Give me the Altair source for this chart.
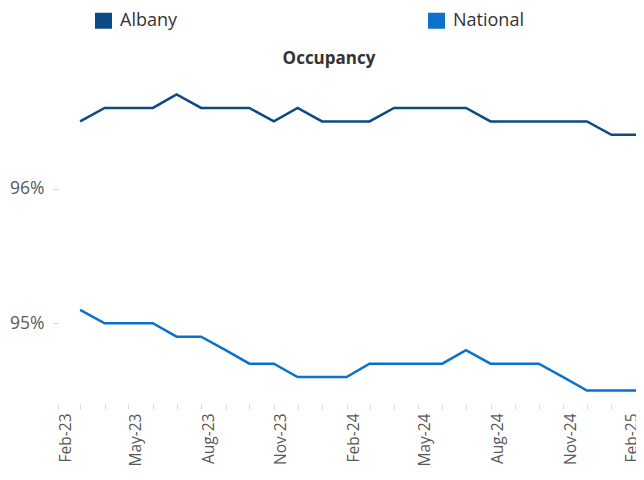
import altair as alt
import pandas as pd

months = [
    "2023-03-01", "2023-04-01", "2023-05-01", "2023-06-01", "2023-07-01", "2023-08-01",
    "2023-09-01", "2023-10-01", "2023-11-01", "2023-12-01", "2024-01-01", "2024-02-01",
    "2024-03-01", "2024-04-01", "2024-05-01", "2024-06-01", "2024-07-01", "2024-08-01",
    "2024-09-01", "2024-10-01", "2024-11-01", "2024-12-01", "2025-01-01", "2025-02-01",
]
albany = [96.5, 96.6, 96.6, 96.6, 96.7, 96.6, 96.6, 96.6, 96.5, 96.6, 96.5, 96.5,
          96.5, 96.6, 96.6, 96.6, 96.6, 96.5, 96.5, 96.5, 96.5, 96.5, 96.4, 96.4]
national = [95.1, 95.0, 95.0, 95.0, 94.9, 94.9, 94.8, 94.7, 94.7, 94.6, 94.6, 94.6,
            94.7, 94.7, 94.7, 94.7, 94.8, 94.7, 94.7, 94.7, 94.6, 94.5, 94.5, 94.5]
series_names = ["Albany", "National"]
series_colors = ["#0B4A84", "#0A72CC"]

rows = []
for m, a, n in zip(months, albany, national):
    rows.append({"month": m, "series": series_names[0], "value": a})
    rows.append({"month": m, "series": series_names[1], "value": n})
df = pd.DataFrame(rows)

tick_dates = [alt.DateTime(year=2023 + (1 + i) // 12, month=((1 + i) % 12) + 1, date=1, utc=True)
              for i in range(25)]

chart = alt.Chart(df).mark_line(strokeWidth=2.5).encode(
    x=alt.X(
        "month:T",
        scale=alt.Scale(type="utc",
                        domain=[alt.DateTime(year=2023, month=2, date=1, utc=True),
                                alt.DateTime(year=2025, month=2, date=1, utc=True)]),
        axis=alt.Axis(
            title=None,
            values=tick_dates,
            labelExpr="utcmonth(datum.value) % 3 == 1 ? utcFormat(datum.value, '%b-%y') : ''",
            labelAngle=-90,
            labelAlign="right",
            labelBaseline=alt.ExprRef(expr="datum.value >= 1735689600000 ? 'alphabetic' : 'top'"),
            labelPadding=4,
            labelFont="Open Sans",
            labelFontSize=15.5,
            labelColor="#595959",
            labelOverlap=False,
            labelFlush=False,
            ticks=True,
            tickColor="#D9D9D9",
            tickSize=5,
            domain=False,
            grid=False,
        ),
    ),
    y=alt.Y(
        "value:Q",
        scale=alt.Scale(domain=[94.4, 96.8], nice=False, zero=False),
        axis=alt.Axis(
            title=None,
            values=[95, 96],
            labelExpr="datum.value + '%'",
            labelFont="Open Sans",
            labelFontSize=17.5,
            labelColor="#595959",
            labelPadding=9,
            ticks=True,
            tickColor="#D9D9D9",
            tickSize=5,
            domain=False,
            grid=False,
        ),
    ),
    color=alt.Color(
        "series:N",
        scale=alt.Scale(domain=series_names, range=series_colors),
        legend=alt.Legend(
            title=None,
            orient="none",
            legendX=29,
            legendY=-77,
            direction="horizontal",
            symbolType="stroke",
            symbolSize=289,
            symbolStrokeWidth=16,
            symbolOpacity=1,
            labelFont="Open Sans",
            labelFontSize=18,
            labelColor="#333333",
            labelOffset=0,
            columnPadding=219,
        ),
    ),
).properties(
    width=578,
    height=323,
    padding={"left": 50, "top": 73, "right": 0, "bottom": 66},
    autosize=alt.AutoSizeParams(type="none"),
    title=alt.TitleParams(
        "Occupancy",
        font="Open Sans",
        fontSize=17,
        fontWeight="bold",
        color="#333333",
        anchor="middle",
        dx=-18,
        offset=-64,
    ),
).configure_view(stroke=None)

chart.save("out.html", embed_options={"renderer": "svg", "actions": False})
